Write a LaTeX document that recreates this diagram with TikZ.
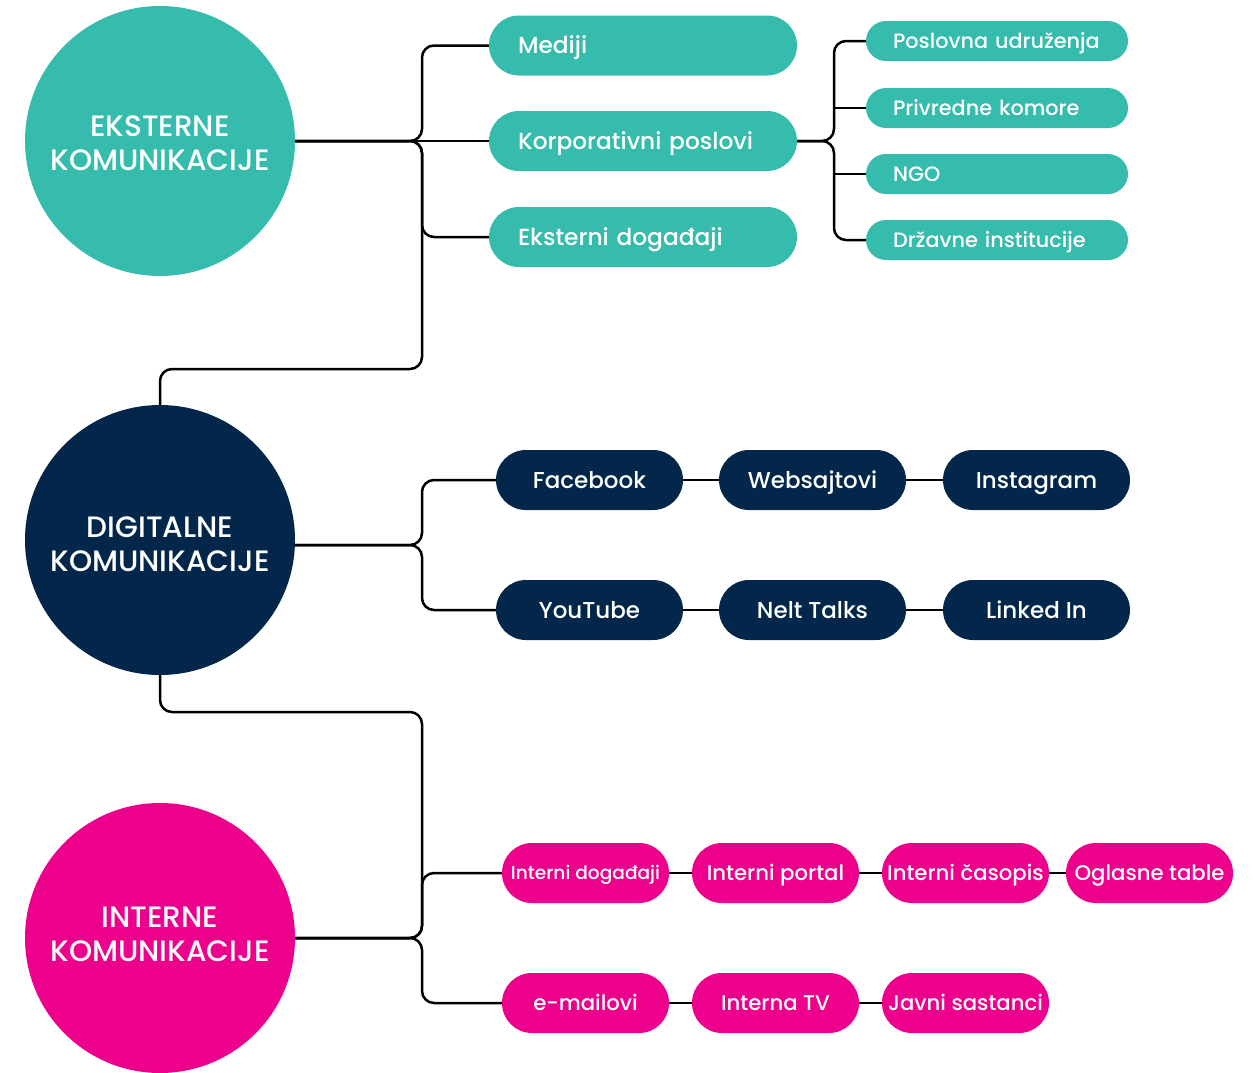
\documentclass[tikz,border=0pt]{standalone}
\usepackage{fontspec}
\setmainfont{Poppins}[UprightFont={* Medium}]
\usetikzlibrary{backgrounds}
\definecolor{teal}{HTML}{35BCAD}
\definecolor{navy}{HTML}{03274A}
\definecolor{mag}{HTML}{EC008C}
\tikzset{
  hub/.style={circle, minimum size=270pt, inner sep=0pt},
  hubtext/.style={inner sep=0pt, text=white, align=center, font=\fontsize{29.5}{34}\selectfont},
  tbig/.style={rectangle, rounded corners=30pt, fill=teal, text=white, minimum height=60pt, inner xsep=29pt, inner ysep=0pt, text width=250pt, align=left, font=\fontsize{23.3}{26}\selectfont, text height=16.3pt, text depth=0pt},
  tsmall/.style={rectangle, rounded corners=20pt, fill=teal, text=white, minimum height=40pt, inner xsep=27pt, inner ysep=0pt, text width=208pt, align=left, font=\fontsize{20.8}{24}\selectfont, text height=14.6pt, text depth=0pt},
  nbox/.style={rectangle, rounded corners=30pt, fill=navy, text=white, minimum height=60pt, minimum width=187pt, inner sep=0pt, align=center, font=\fontsize{23}{26}\selectfont, text height=16.1pt, text depth=0pt},
  mbox/.style={rectangle, rounded corners=30pt, fill=mag, text=white, minimum height=60pt, minimum width=167pt, inner sep=0pt, align=center, font=\fontsize{21.2}{24}\selectfont, text height=14.8pt, text depth=0pt},
  conn/.style={draw=black, line width=2.5pt, rounded corners=12pt},
}
\begin{document}
\begin{tikzpicture}[x=1pt, y=-1pt]
\useasboundingbox (0,0) rectangle (1254,1072);
% hubs
\node[hub, fill=teal] (ek) at (160,141) {};
\node[hub, fill=navy] (dg) at (160,540) {};
\node[hub, fill=mag] (in) at (160,938) {};
\node[hubtext] (ekt) at (160,143.5) {EKSTERNE\\KOMUNIKACIJE};
\node[hubtext] (dgt) at (160,544) {DIGITALNE\\KOMUNIKACIJE};
\node[hubtext] (int) at (160,934.5) {INTERNE\\KOMUNIKACIJE};
% external
\node[tbig] (med) at (643,45.5) {Mediji};
\node[tbig] (kor) at (643,141) {Korporativni poslovi};
\node[tbig] (eks) at (643,237) {Eksterni događaji};
\node[tsmall] (pos) at (997,41) {Poslovna udruženja};
\node[tsmall] (pri) at (997,108) {Privredne komore};
\node[tsmall] (ngo) at (997,174) {NGO};
\node[tsmall] (drz) at (997,240) {Državne institucije};
% digital
\node[nbox] (fb) at (589.5,480) {Facebook};
\node[nbox] (web) at (812.5,480) {Websajtovi};
\node[nbox] (ig) at (1036.5,480) {Instagram};
\node[nbox] (yt) at (589.5,610) {YouTube};
\node[nbox] (nt) at (812.5,610) {Nelt Talks};
\node[nbox] (li) at (1036.5,610) {Linked In};
% internal
\node[mbox, font=\fontsize{18.6}{22}\selectfont, text height=13pt] (id) at (585.5,873) {Interni događaji};
\node[mbox] (ip) at (775.5,873) {Interni portal};
\node[mbox] (ic) at (965.5,873) {Interni časopis};
\node[mbox] (ot) at (1149.5,873) {Oglasne table};
\node[mbox] (em) at (585.5,1003) {e-mailovi};
\node[mbox] (itv) at (775.5,1003) {Interna TV};
\node[mbox] (js) at (965.5,1003) {Javni sastanci};
% junctions
\coordinate (j1) at (422,141);
\coordinate (j2) at (834,141);
\coordinate (j3) at (422,545);
\coordinate (j4) at (422,938);
\coordinate (d1) at (422,369);
\coordinate (d2) at (160,712);
\begin{scope}[on background layer]
\draw[conn] (ek.center) -- (kor.center);
\draw[conn] (ek.east) -- (j1) |- (med.west);
\draw[conn] (ek.east) -- (j1) |- (eks.west);
\draw[conn] (ek.east) -- (j1) -- (d1) -| (dg.north);
\draw[conn] (kor.east) -- (j2) |- (pos.west);
\draw[conn] (kor.east) -- (j2) |- (drz.west);
\draw[conn] (j2 |- pri.west) -- (pri.west);
\draw[conn] (j2 |- ngo.west) -- (ngo.west);
\draw[conn] (dg.center |- j3) -- (j3) |- (fb.west);
\draw[conn] (dg.center |- j3) -- (j3) |- (yt.west);
\draw[conn] (fb.center) -- (ig.center);
\draw[conn] (yt.center) -- (li.center);
\draw[conn] (dg.south) |- (d2 -| j4) -- (j4) -- (in.east);
\draw[conn] (in.east) -- (j4) |- (id.west);
\draw[conn] (in.east) -- (j4) |- (em.west);
\draw[conn] (id.center) -- (ot.center);
\draw[conn] (em.center) -- (js.center);
\end{scope}
\end{tikzpicture}
\end{document}
